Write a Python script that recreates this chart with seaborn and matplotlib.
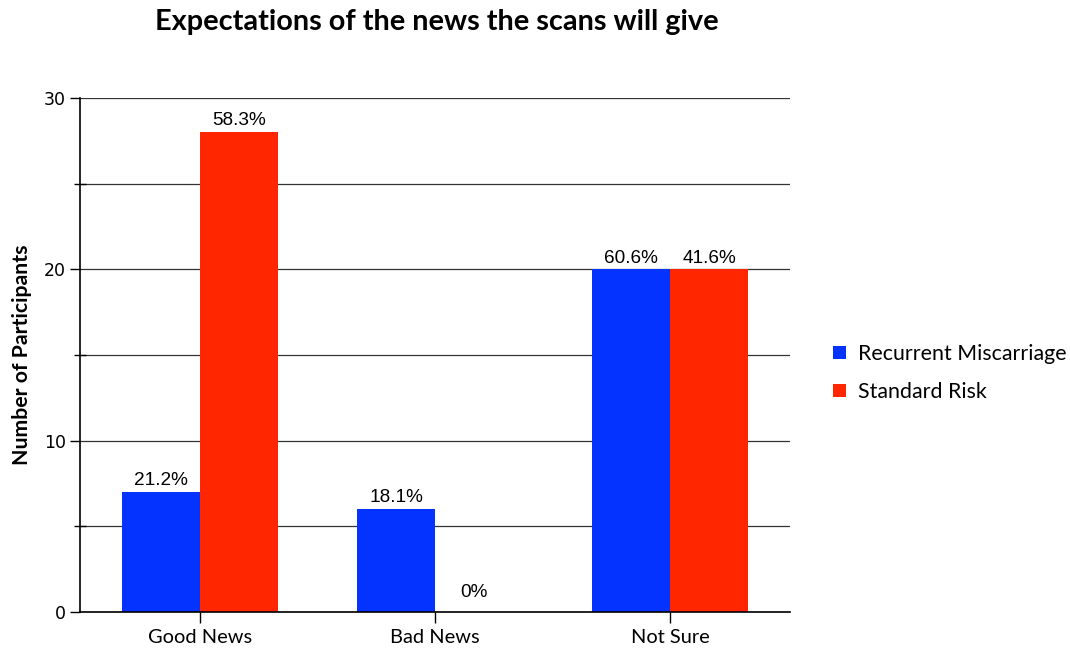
import matplotlib
matplotlib.use("Agg")
import matplotlib.pyplot as plt
import seaborn as sns
import pandas as pd
from matplotlib.ticker import MultipleLocator

categories = ["Good News", "Bad News", "Not Sure"]
series = ["Recurrent Miscarriage", "Standard Risk"]
rm_values = [7, 6, 20]
sr_values = [28, 0, 20]
rm_labels = ["21.2%", "18.1%", "60.6%"]
sr_labels = ["58.3%", "0%", "41.6%"]
colors = ["#0433FF", "#FF2600"]

df = pd.DataFrame({
    "Category": categories * 2,
    "Series": [series[0]] * 3 + [series[1]] * 3,
    "Value": rm_values + sr_values,
})

sns.set_style("white")
plt.rcParams["font.family"] = ["Lato", "DejaVu Sans"]
plt.rcParams["text.color"] = "black"
plt.rcParams["axes.labelcolor"] = "black"
plt.rcParams["xtick.color"] = "black"
plt.rcParams["ytick.color"] = "black"

fig = plt.figure(figsize=(10.7, 6.51), dpi=100)
ax = fig.add_axes([80/1070, 1-612/651, 710/1070, (612-98)/651])

sns.barplot(data=df, x="Category", y="Value", hue="Series", order=categories,
            hue_order=series, palette=colors, width=0.664, gap=0, ax=ax,
            saturation=1, edgecolor="none", linewidth=0)

ax.set_xlim(-120/235, 2 + 120/235)
ax.set_ylim(0, 30)
ax.yaxis.set_major_locator(MultipleLocator(10))
ax.yaxis.set_minor_locator(MultipleLocator(5))
ax.grid(axis="y", which="both", color="#333333", linewidth=0.9)
ax.set_axisbelow(True)
for s in ["top", "right"]:
    ax.spines[s].set_visible(False)
for s in ["left", "bottom"]:
    ax.spines[s].set_color("black")
    ax.spines[s].set_linewidth(1.2)

ax.tick_params(axis="y", which="major", direction="out", length=7, width=1,
               color="black", left=True, labelsize=12.5, pad=3)
ax.tick_params(axis="y", which="minor", direction="inout", length=8, width=1,
               color="black", left=True)
ax.tick_params(axis="x", direction="out", length=8, width=1, color="black",
               bottom=True, labelsize=14.4, pad=4)
for lab in ax.get_yticklabels():
    lab.set_fontfamily("DejaVu Sans")

ax.set_xlabel("")
ax.set_ylabel("Number of Participants", fontsize=15.3, fontweight="bold", labelpad=9)

label_sets = [rm_labels, sr_labels]
for cont, labs in zip(ax.containers, label_sets):
    for bar, lab in zip(cont, labs):
        h = bar.get_height()
        off = 8 if h == 0 else 2
        ax.annotate(lab, (bar.get_x() + bar.get_width() / 2, h),
                    xytext=(0, off), textcoords="offset points",
                    ha="center", va="bottom", fontsize=13.7,
                    family="Liberation Sans")

leg = ax.legend(loc="center left", bbox_to_anchor=(1 + 43/710, 0.465), frameon=False,
                fontsize=15.4, handlelength=0.6, handleheight=0.6,
                handletextpad=0.55, labelspacing=0.85, borderaxespad=0, borderpad=0)

fig.text(437/1070, 1-22/651, "Expectations of the news the scans will give",
         ha="center", va="center", fontsize=20.8, fontweight="bold")

fig.savefig("out.png", dpi=100)
